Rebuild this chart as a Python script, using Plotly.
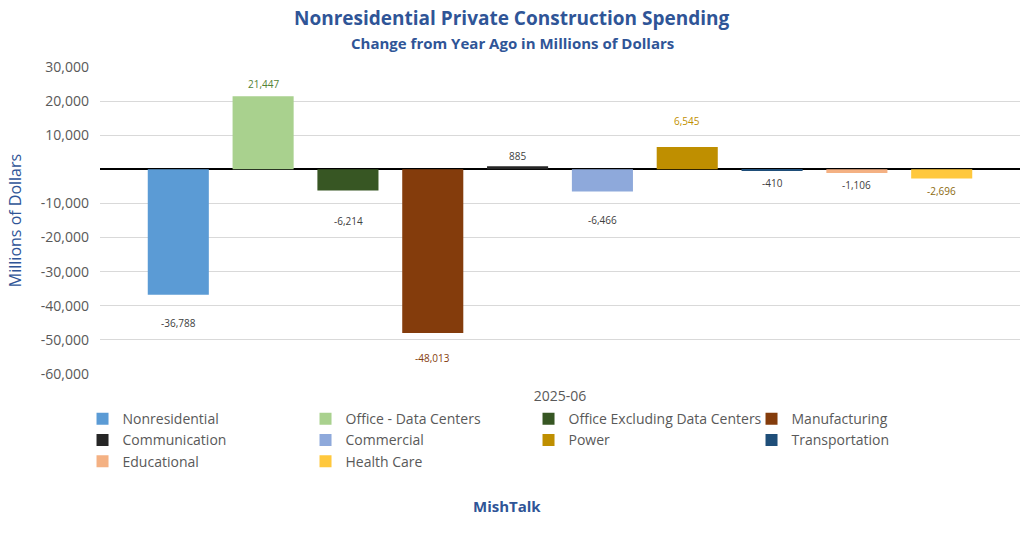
import plotly.graph_objects as go

period = ['2025-06']

categories = ['Nonresidential', 'Office - Data Centers', 'Office Excluding Data Centers',
              'Manufacturing', 'Communication', 'Commercial', 'Power',
              'Transportation', 'Educational', 'Health Care']
changes = [-36788, 21447, -6214, -48013, 885, -6466, 6545, -410, -1106, -2696]

bar_colors = ['#5B9BD5', '#A9D18E', '#375623', '#843C0C', '#262626',
              '#8EA9DB', '#BF8F00', '#1F4E79', '#F4B183', '#FFC83D']
label_colors = ['#404040', '#548235', '#404040', '#843C0C', '#404040',
                '#404040', '#BF9000', '#404040', '#404040', '#8C6A10']
# how far (px) each data label sits from its bar end, as in the original
label_shift = [-28, 12, -30, -25, 10, -29, 26, -12, -12, -12]

tick_vals = [30000, 20000, 10000, -10000, -20000, -30000, -40000, -50000, -60000]
tick_text = ['30,000', '20,000', '10,000', '-10,000', '-20,000', '-30,000',
             '-40,000', '-50,000', '-60,000']

blue = '#2F5597'
grey = '#595959'
font = 'Open Sans'

fig = go.Figure()
for name, val, col in zip(categories, changes, bar_colors):
    fig.add_trace(go.Bar(name=name, x=period, y=[val], marker_color=col,
                         marker_line_width=0))

for i, (val, col, dy) in enumerate(zip(changes, label_colors, label_shift)):
    fig.add_annotation(x=period[0], y=val, text='{:,}'.format(val), showarrow=False,
                       xref='x', yref='y', xshift=(i - 4.5) * 84.8, yshift=dy,
                       font=dict(family=font, size=10, color=col))

fig.add_annotation(text='<b>Nonresidential Private Construction Spending</b>',
                   xref='paper', yref='paper', x=0.448, y=1.16, yanchor='middle',
                   showarrow=False, font=dict(family=font, size=19, color=blue))
fig.add_annotation(text='<b>Change from Year Ago in Millions of Dollars</b>',
                   xref='paper', yref='paper', x=0.448, y=1.078, yanchor='middle',
                   showarrow=False, font=dict(family=font, size=15, color=blue))
fig.add_annotation(text='<b>MishTalk</b>', xref='paper', yref='paper', x=0.442, y=-0.43,
                   yanchor='middle', showarrow=False,
                   font=dict(family=font, size=15, color=blue))

fig.update_layout(
    width=1024, height=541,
    margin=dict(l=100, r=4, t=67, b=167),
    paper_bgcolor='white', plot_bgcolor='white',
    barmode='group', bargap=0.078, bargroupgap=0.28,
    font=dict(family=font, color=grey),
    showlegend=True,
    legend=dict(orientation='h', x=-0.019, y=-0.095, xanchor='left', yanchor='top',
                entrywidth=178, entrywidthmode='pixels',
                font=dict(family=font, size=14, color=grey),
                itemclick=False, traceorder='normal'),
)
fig.update_xaxes(type='category', showgrid=False, showline=False, ticks='',
                 ticklabelstandoff=12, tickfont=dict(size=14, color=grey))
fig.update_yaxes(range=[-60000, 30000], tickvals=tick_vals, ticktext=tick_text,
                 automargin=False, ticklabelstandoff=10,
                 showgrid=True, gridcolor='#D9D9D9', gridwidth=1,
                 zeroline=True, zerolinecolor='black', zerolinewidth=1.5,
                 tickfont=dict(size=14, color=grey),
                 title=dict(text='Millions of Dollars',
                            font=dict(family=font, size=16, color=blue)))

# the page's default body margin would shift the whole figure by 8px
fig.write_html('out.html', config={'displayModeBar': False},
               post_script="document.body.style.margin='0';")
